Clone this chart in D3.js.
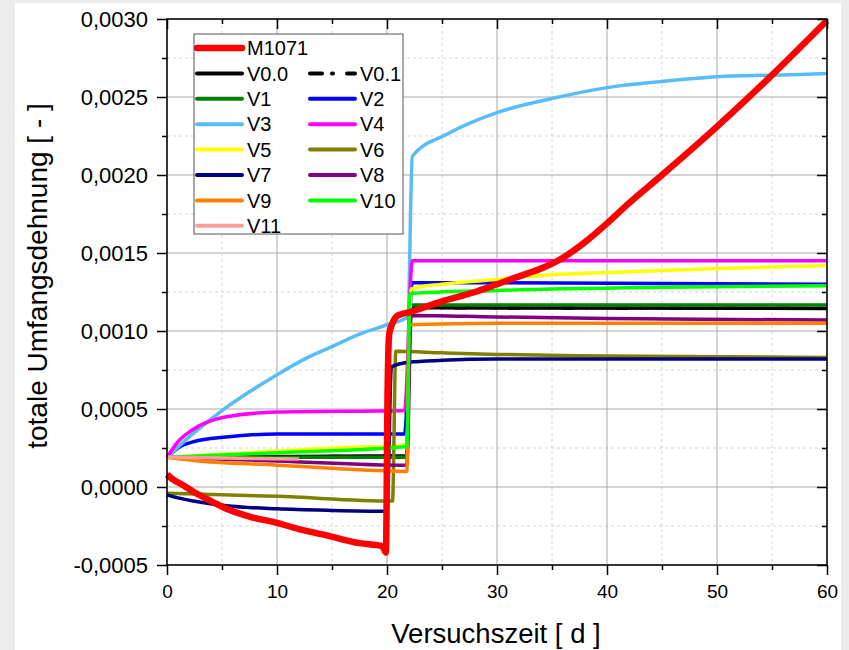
<!DOCTYPE html>
<meta charset="utf-8">
<style>
  body, html {
    margin: 0;
    padding: 0;
    background: #ececec;
  }
  text {
    font-family: "Liberation Sans", Arial, sans-serif;
    fill: #000;
  }
</style>
<body>
<svg width="849" height="650"></svg>
<script src="https://d3js.org/d3.v7.min.js"></script>
<script>
// ticks
var dayTicks = [0, 10, 20, 30, 40, 50, 60];
var dayMinor = [5, 15, 25, 35, 45, 55];
var strainTicks = [-0.0005, 0, 0.0005, 0.001, 0.0015, 0.002, 0.0025, 0.003];
var strainMinor = [-0.00025, 0.00025, 0.00075, 0.00125, 0.00175, 0.00225, 0.00275];

// [day, strain]
var m1071 = [[0, 0.00008], [0.5, 0.00005], [1.5, 0.00001], [2.4, -0.00003], [4, -0.00009], [5.4, -0.00014],
  [7.5, -0.00019], [10, -0.00023], [12, -0.00027], [14.5, -0.00031], [17.5, -0.00036], [19.6, -0.00038],
  [19.9, -0.00042], [20.05, 0.0006], [20.2, 0.00098], [20.5, 0.00105], [21, 0.0011], [22, 0.00112],
  [25, 0.00119], [28, 0.00125], [30, 0.0013], [32, 0.00135], [34, 0.0014], [36, 0.00147], [38, 0.00157],
  [40, 0.00169], [42, 0.00182], [45, 0.002], [50, 0.00231], [55, 0.00264], [60, 0.00299]];
var v00 = [[0, 0.00019], [21.8, 0.0002], [22.1, 0.00115], [30, 0.001148], [60, 0.001145]];
var v01 = [[0, 0.00019], [21.8, 0.0002], [22.1, 0.00115], [30, 0.001148], [60, 0.001145]];
var v1 = [[0, 0.00019], [21.8, 0.00019], [22.1, 0.001167], [60, 0.001167]];
var v2 = [[0, 0.00019], [1, 0.00025], [2.4, 0.00029], [5.4, 0.00032], [10, 0.00034], [21.6, 0.00034],
  [22.3, 0.00131], [30, 0.00131], [60, 0.0013]];
var v3 = [[0, 0.00019], [2.5, 0.00035], [5, 0.00049], [7.5, 0.00061], [10, 0.00072], [12.5, 0.00082],
  [15, 0.0009], [17.5, 0.00098], [20, 0.00104], [21.9, 0.00109], [22.3, 0.00212],
  [25.4, 0.00226], [30, 0.0024], [35, 0.00249], [40, 0.00256], [45, 0.0026], [50, 0.00263], [55, 0.00264],
  [60, 0.00265]];
var v4 = [[0, 0.00019], [1, 0.00029], [2.4, 0.00037], [5.4, 0.00045], [10, 0.00048], [21.6, 0.00049],
  [22.3, 0.00145], [60, 0.00145]];
var v5 = [[0, 0.00019], [5, 0.00021], [10, 0.00023], [15, 0.00025], [21.8, 0.00027], [22.2, 0.00127],
  [25, 0.0013], [30, 0.00133], [35, 0.00136], [40, 0.001375], [50, 0.0014], [60, 0.00142]];
var v6 = [[0, -0.00004], [10, -0.00006], [20.5, -0.00009], [20.8, 0.00087], [25, 0.00086], [30, 0.00085],
  [40, 0.00084], [60, 0.00083]];
var v7 = [[0, -0.00005], [1, -0.00007], [2.4, -0.00009], [5.4, -0.00012], [10, -0.00014], [15, -0.00015],
  [20, -0.000155], [20.4, 0.00077], [22, 0.0008], [25, 0.000812], [30, 0.00082], [60, 0.00082]];
var v8 = [[0, 0.00019], [10, 0.000167], [21.8, 0.00014], [22.2, 0.0011], [30, 0.00109], [40, 0.00108],
  [60, 0.00107]];
var v9 = [[0, 0.00019], [2.4, 0.00017], [10, 0.00014], [15, 0.00012], [21.8, 0.0001], [22, 0.00104],
  [30, 0.00105], [60, 0.00105]];
var v10 = [[0, 0.00019], [10, 0.00022], [21.8, 0.00026], [22.1, 0.00124], [30, 0.00126], [45, 0.00128],
  [60, 0.00129]];
var v11 = [[0, 0.00019], [12, 0.00018]];

var series = [
  {name: "V0.1", data: v01, color: "#000", dash: "12,12,1,16,1,12", w: 3.5},
  {name: "V0.0", data: v00, color: "#000", w: 3.5},
  {name: "V1", data: v1, color: "#008000", w: 3.5},
  {name: "V2", data: v2, color: "#0000ff", w: 3.5},
  {name: "V3", data: v3, color: "#58bcf6", w: 3.5},
  {name: "V4", data: v4, color: "#ff00ff", w: 3.5},
  {name: "V5", data: v5, color: "#ffff00", w: 3.5},
  {name: "V6", data: v6, color: "#808000", w: 3.5},
  {name: "V7", data: v7, color: "#000080", w: 3.5},
  {name: "V8", data: v8, color: "#800080", w: 3.5},
  {name: "V9", data: v9, color: "#ff8000", w: 3.5},
  {name: "V10", data: v10, color: "#00ff00", w: 3.5},
  {name: "V11", data: v11, color: "#ff9d9d", w: 3.5},
  {name: "M1071", data: m1071, color: "#ff0000", w: 6.5}
];
var byName = {};
series.forEach(function(s) { byName[s.name] = s; });

var svg = d3.select("svg");
var margin = {top: 19, right: 22, bottom: 85, left: 167},
    width = 849 - margin.left - margin.right,
    height = 650 - margin.top - margin.bottom;

// white page area of the screenshot
svg.append("rect").attr("x", 15).attr("y", 3).attr("width", 826).attr("height", 647).attr("fill", "#fff");

var g = svg.append("g").attr("transform", "translate(" + margin.left + "," + margin.top + ")");

var x = d3.scaleLinear().domain([0, 60]).range([0, width]);
var y = d3.scaleLinear().domain([-0.0005, 0.003]).range([height, 0]);

var de = d3.formatLocale({decimal: ",", thousands: ".", grouping: [3], currency: ["", " €"], minus: "-"});
var fmt = de.format(".4f");

// grid
g.append("g").selectAll("line").data(dayMinor).enter().append("line")
    .attr("x1", x).attr("x2", x).attr("y1", 0).attr("y2", height)
    .attr("stroke", "#d4d4d4").attr("stroke-dasharray", "3,3");
g.append("g").selectAll("line").data(strainMinor).enter().append("line")
    .attr("y1", y).attr("y2", y).attr("x1", 0).attr("x2", width)
    .attr("stroke", "#d4d4d4").attr("stroke-dasharray", "3,3");
g.append("g").selectAll("line").data(dayTicks).enter().append("line")
    .attr("x1", x).attr("x2", x).attr("y1", 0).attr("y2", height)
    .attr("stroke", "#aaa");
g.append("g").selectAll("line").data(strainTicks).enter().append("line")
    .attr("y1", y).attr("y2", y).attr("x1", 0).attr("x2", width)
    .attr("stroke", "#aaa");

// curves
var line = d3.line()
    .curve(d3.curveMonotoneX)
    .x(function(d) { return x(d[0]); })
    .y(function(d) { return y(d[1]); });

g.append("g").selectAll("path").data(series).enter().append("path")
    .attr("d", function(d) { return line(d.data); })
    .attr("fill", "none")
    .attr("stroke", function(d) { return d.color; })
    .attr("stroke-width", function(d) { return d.w; })
    .attr("stroke-dasharray", function(d) { return d.dash || null; })
    .attr("stroke-linejoin", "round");

// axes
function styleAxis(a, size) {
  a.select(".domain").remove();
  a.selectAll(".tick line").attr("stroke", "#000").attr("stroke-width", 1.5);
  a.selectAll(".tick text").style("font-size", (size || 20) + "px");
}
g.append("g").attr("transform", "translate(0," + height + ")")
    .call(d3.axisBottom(x).tickValues(dayTicks).tickSize(10).tickPadding(10).tickFormat(d3.format("d")))
    .call(styleAxis, 19);
g.append("g").attr("transform", "translate(0," + height + ")")
    .call(d3.axisBottom(x).tickValues(dayMinor).tickSize(5).tickFormat(""))
    .call(styleAxis);
g.append("g")
    .call(d3.axisLeft(y).tickValues(strainTicks).tickSize(10).tickPadding(9).tickFormat(fmt))
    .call(styleAxis, 22);
g.append("g")
    .call(d3.axisLeft(y).tickValues(strainMinor).tickSize(5).tickFormat(""))
    .call(styleAxis);
// right and top: ticks point inside
g.append("g").attr("transform", "translate(" + width + ",0)")
    .call(d3.axisLeft(y).tickValues(strainTicks).tickSize(10).tickFormat(""))
    .call(styleAxis);
g.append("g").attr("transform", "translate(" + width + ",0)")
    .call(d3.axisLeft(y).tickValues(strainMinor).tickSize(5).tickFormat(""))
    .call(styleAxis);
g.append("g")
    .call(d3.axisBottom(x).tickValues(dayTicks).tickSize(10).tickFormat(""))
    .call(styleAxis);
g.append("g")
    .call(d3.axisBottom(x).tickValues(dayMinor).tickSize(5).tickFormat(""))
    .call(styleAxis);

g.append("rect").attr("width", width).attr("height", height)
    .attr("fill", "none").attr("stroke", "#000").attr("stroke-width", 1.5);

// titles
svg.append("text")
    .attr("transform", "translate(47,276) rotate(-90)")
    .attr("text-anchor", "middle")
    .style("font-size", "28px")
    .text("totale Umfangsdehnung [ - ]");
svg.append("text")
    .attr("x", 496)
    .attr("y", 643)
    .attr("text-anchor", "middle")
    .style("font-size", "27.5px")
    .text("Versuchszeit [ d ]");

// legend
var legendRows = [["M1071"], ["V0.0", "V0.1"], ["V1", "V2"], ["V3", "V4"], ["V5", "V6"], ["V7", "V8"], ["V9", "V10"], ["V11"]];
var lg = svg.append("g").attr("transform", "translate(194,34)");
lg.append("rect").attr("width", 209).attr("height", 200)
    .attr("fill", "#fff").attr("stroke", "#555").attr("stroke-width", 1);
legendRows.forEach(function(row, i) {
  row.forEach(function(name, j) {
    var s = byName[name];
    var it = lg.append("g").attr("transform", "translate(" + (j * 113) + "," + (14 + i * 25.4) + ")");
    it.append("line")
        .attr("x1", 3).attr("x2", 48).attr("y1", 0).attr("y2", 0)
        .attr("stroke", s.color)
        .attr("stroke-width", name == "M1071" ? 6.5 : 4)
        .attr("stroke-linecap", "round")
        .attr("stroke-dasharray", s.dash ? "12,10,1,14" : null);
    it.append("text")
        .attr("x", 53).attr("y", 0).attr("dy", "0.36em")
        .style("font-size", "20px")
        .text(name);
  });
});
</script>
</body>
